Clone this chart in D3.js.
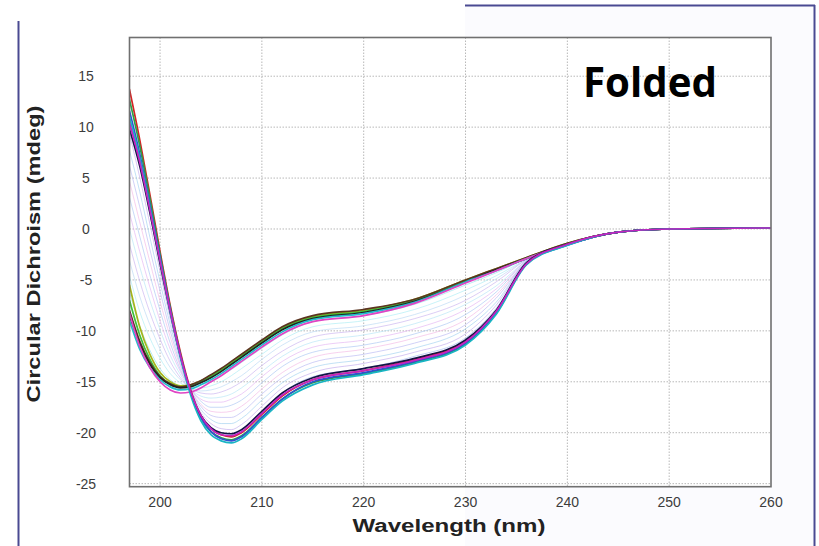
<!DOCTYPE html>
<html>
<head>
<meta charset="utf-8">
<script src="https://cdn.jsdelivr.net/npm/d3@7"></script>
<style>
  html, body { margin: 0; padding: 0; background: #ffffff; }
  svg { display: block; }
</style>
</head>
<body>
<svg id="chart" width="819" height="546"></svg>
<script>
// Wavelength grid (nm) shared by every spectrum
const wavelengths = [197,198,199,200,201,202,203,204,205,206,207,208,210,212,215,220,225,230,233,236,240,245,250,260];

const xTicks = [200, 210, 220, 230, 240, 250, 260];
const yTicks = [15, 10, 5, 0, -5, -10, -15, -20, -25];

// Spectra with the deep 207 nm minimum (CD, mdeg)
const helixSpectra = [
  [13.7,8.8,3.4,-2.2,-7.5,-12.1,-15.8,-18.3,-19.6,-20.2,-20.4,-20.0,-18.2,-16.4,-14.8,-13.9,-12.8,-11.0,-8.1,-3.4,-1.5,-0.3,0.0,0.1],
  [12.7,8.2,3.0,-2.5,-7.7,-12.3,-16.0,-18.5,-19.9,-20.5,-20.7,-20.3,-18.5,-16.7,-15.1,-14.2,-13.1,-11.3,-8.3,-3.4,-1.5,-0.3,0.0,0.1],
  [11.6,7.4,2.4,-2.8,-7.9,-12.4,-16.0,-18.5,-19.9,-20.6,-20.8,-20.4,-18.5,-16.7,-15.0,-14.1,-13.0,-11.2,-8.2,-3.4,-1.6,-0.3,0.0,0.1],
  [9.8,6.2,1.6,-3.4,-8.2,-12.5,-16.0,-18.3,-19.5,-20.0,-20.1,-19.7,-17.9,-16.1,-14.6,-13.7,-12.7,-10.9,-8.0,-3.3,-1.5,-0.3,0.0,0.1],
  [11.0,7.0,2.1,-3.0,-8.1,-12.6,-16.3,-18.8,-20.2,-20.8,-21.0,-20.6,-18.7,-16.9,-15.3,-14.3,-13.2,-11.4,-8.4,-3.5,-1.6,-0.3,0.0,0.1],
  [10.4,6.6,1.9,-3.1,-8.0,-12.4,-15.9,-18.3,-19.6,-20.2,-20.3,-19.9,-18.1,-16.3,-14.8,-13.9,-12.9,-11.1,-8.1,-3.4,-1.5,-0.3,0.0,0.1]
];
const helixColors = ["#d42424", "#2aa048", "#3050d0", "#141446", "#18b4c4", "#c424c0"];

// Spectra with the shallow 202 nm minimum (CD, mdeg)
const coilSpectra = [
  [-5.5,-9.6,-12.3,-14.1,-15.0,-15.4,-15.3,-14.9,-14.4,-13.8,-13.1,-12.4,-11.0,-9.7,-8.6,-8.0,-6.9,-5.0,-3.9,-2.8,-1.4,-0.3,0.0,0.1],
  [-7.0,-10.4,-12.8,-14.4,-15.2,-15.5,-15.4,-15.0,-14.5,-13.9,-13.2,-12.5,-11.1,-9.8,-8.7,-8.1,-7.0,-5.1,-4.0,-2.9,-1.5,-0.3,0.0,0.1],
  [-8.0,-11.0,-13.1,-14.5,-15.2,-15.5,-15.3,-14.9,-14.3,-13.7,-13.0,-12.3,-10.9,-9.6,-8.5,-7.9,-6.9,-5.0,-3.9,-2.8,-1.4,-0.3,0.0,0.1],
  [-8.5,-11.3,-13.3,-14.6,-15.3,-15.6,-15.5,-15.1,-14.6,-14.0,-13.3,-12.6,-11.2,-9.9,-8.8,-8.2,-7.1,-5.2,-4.0,-2.9,-1.5,-0.3,0.0,0.1],
  [-9.0,-11.8,-13.6,-14.8,-15.5,-15.8,-15.7,-15.3,-14.8,-14.2,-13.5,-12.8,-11.4,-10.1,-8.9,-8.3,-7.2,-5.2,-4.1,-2.9,-1.5,-0.3,0.0,0.1],
  [-8.3,-11.5,-13.6,-15.0,-15.8,-16.1,-16.0,-15.6,-15.0,-14.4,-13.7,-13.0,-11.6,-10.3,-9.1,-8.5,-7.3,-5.3,-4.1,-2.9,-1.5,-0.3,0.0,0.1]
];
const coilColors = ["#a4b41c", "#3cc03c", "#5a3420", "#222222", "#22bccc", "#e044c4"];

// Intermediate spectra recorded between the two end states
const transitionSpectra = [
  [-6.2,-9.5,-11.9,-13.7,-14.8,-15.4,-15.5,-15.3,-15.0,-14.4,-13.8,-13.1,-11.7,-10.4,-9.1,-8.5,-7.4,-5.5,-4.3,-2.9,-1.5,-0.3,0.0,0.1],
  [-4.6,-8.1,-10.7,-12.7,-14.2,-15.1,-15.6,-15.6,-15.4,-15.0,-14.4,-13.7,-12.3,-10.9,-9.6,-9.0,-7.9,-6.0,-4.6,-3.0,-1.5,-0.3,0.0,0.1],
  [-3.1,-6.6,-9.4,-11.8,-13.6,-14.8,-15.6,-15.9,-15.8,-15.5,-15.0,-14.4,-12.8,-11.4,-10.1,-9.5,-8.4,-6.5,-4.9,-3.0,-1.5,-0.3,0.0,0.1],
  [-1.5,-5.1,-8.2,-10.8,-13.0,-14.6,-15.6,-16.1,-16.2,-16.0,-15.6,-15.0,-13.4,-12.0,-10.6,-9.9,-8.8,-7.0,-5.2,-3.0,-1.5,-0.3,0.0,0.1],
  [0.0,-3.7,-7.0,-9.9,-12.4,-14.3,-15.7,-16.4,-16.6,-16.5,-16.2,-15.6,-14.0,-12.5,-11.1,-10.4,-9.3,-7.4,-5.6,-3.1,-1.5,-0.3,0.0,0.1],
  [1.6,-2.2,-5.7,-9.0,-11.8,-14.0,-15.7,-16.7,-17.0,-17.0,-16.7,-16.2,-14.5,-13.0,-11.6,-10.9,-9.8,-7.9,-5.9,-3.1,-1.5,-0.3,0.0,0.1],
  [3.1,-0.7,-4.5,-8.0,-11.2,-13.8,-15.7,-16.9,-17.5,-17.5,-17.3,-16.8,-15.1,-13.5,-12.1,-11.4,-10.3,-8.4,-6.2,-3.1,-1.5,-0.3,0.0,0.1],
  [4.7,0.7,-3.2,-7.1,-10.6,-13.5,-15.8,-17.2,-17.9,-18.0,-17.9,-17.4,-15.7,-14.1,-12.6,-11.8,-10.7,-8.9,-6.5,-3.2,-1.5,-0.3,0.0,0.1],
  [6.2,2.2,-2.0,-6.1,-10.0,-13.3,-15.8,-17.4,-18.3,-18.5,-18.5,-18.0,-16.2,-14.6,-13.1,-12.3,-11.2,-9.4,-6.8,-3.2,-1.5,-0.3,0.0,0.1],
  [7.7,3.7,-0.8,-5.2,-9.4,-13.0,-15.8,-17.7,-18.7,-19.1,-19.1,-18.6,-16.8,-15.1,-13.6,-12.8,-11.7,-9.8,-7.2,-3.2,-1.5,-0.3,0.0,0.1],
  [9.3,5.1,0.5,-4.2,-8.8,-12.7,-15.8,-18.0,-19.1,-19.6,-19.7,-19.2,-17.4,-15.6,-14.1,-13.2,-12.1,-10.3,-7.5,-3.2,-1.5,-0.3,0.0,0.1],
  [10.6,6.4,1.6,-3.4,-8.3,-12.5,-15.9,-18.2,-19.5,-20.0,-20.2,-19.7,-17.9,-16.1,-14.5,-13.7,-12.5,-10.7,-7.8,-3.3,-1.5,-0.3,0.0,0.1]
];
const transitionColors = ["#8fe3ee", "#a8ecf4", "#b8d8f4", "#c8b0f0", "#b4e4f6", "#e2b2f2",
                          "#a8c4f2", "#f2b6e4", "#b6b6f2", "#9fd0f0", "#c0a8ec", "#a0b6f0"];

const svg = d3.select("#chart");
const W = 819, H = 546;
const plot = { left: 129.5, right: 771, top: 37.5, bottom: 486.7 };

// light backdrop and slide border lines
svg.append("rect").attr("x", 0).attr("y", 0).attr("width", W).attr("height", H).attr("fill", "#ffffff");
svg.append("rect").attr("x", 465).attr("y", 6.5).attr("width", 348).attr("height", H - 6.5).attr("fill", "#fbfbfe");
svg.append("rect").attr("x", plot.left).attr("y", plot.top)
  .attr("width", plot.right - plot.left).attr("height", plot.bottom - plot.top).attr("fill", "#ffffff");

const border = "#4a4a92";
svg.append("line").attr("x1", 18.5).attr("x2", 18.5).attr("y1", 21).attr("y2", H)
  .attr("stroke", border).attr("stroke-width", 2);
svg.append("line").attr("x1", 465).attr("x2", 815).attr("y1", 5.5).attr("y2", 5.5)
  .attr("stroke", border).attr("stroke-width", 2);
svg.append("line").attr("x1", 814.5).attr("x2", 814.5).attr("y1", 5).attr("y2", H)
  .attr("stroke", border).attr("stroke-width", 2);

const x = d3.scaleLinear().domain([197, 260]).range([plot.left, plot.right]);
const y = d3.scaleLinear().domain([-25.3, 18.8]).range([plot.bottom, plot.top]);

// dotted grid
const grid = svg.append("g").attr("stroke", "#b8b8b8").attr("stroke-width", 1)
  .attr("stroke-dasharray", "1.5,1.5");
grid.selectAll(".vg").data(xTicks.filter(t => t < 260)).join("line")
  .attr("x1", d => x(d)).attr("x2", d => x(d)).attr("y1", plot.top).attr("y2", plot.bottom);
grid.selectAll(".hg").data(yTicks).join("line")
  .attr("x1", plot.left).attr("x2", plot.right).attr("y1", d => y(d)).attr("y2", d => y(d));

// spectra
svg.append("clipPath").attr("id", "plotClip").append("rect")
  .attr("x", plot.left).attr("y", plot.top)
  .attr("width", plot.right - plot.left).attr("height", plot.bottom - plot.top);

const line = d3.line()
  .x((d, i) => x(wavelengths[i]))
  .y(d => y(d))
  .curve(d3.curveMonotoneX);

const curves = svg.append("g").attr("clip-path", "url(#plotClip)").attr("fill", "none")
  .attr("stroke-linejoin", "round").attr("stroke-linecap", "round");

curves.append("g").selectAll("path").data(transitionSpectra).join("path")
  .attr("d", line)
  .attr("stroke", (d, i) => transitionColors[i])
  .attr("stroke-width", 0.8)
  .attr("opacity", 0.8);

curves.append("g").selectAll("path").data(coilSpectra).join("path")
  .attr("d", line)
  .attr("stroke", (d, i) => coilColors[i])
  .attr("stroke-width", 1.7);

curves.append("g").selectAll("path").data(helixSpectra).join("path")
  .attr("d", line)
  .attr("stroke", (d, i) => helixColors[i])
  .attr("stroke-width", 1.7);

// plot frame
svg.append("rect").attr("x", plot.left).attr("y", plot.top)
  .attr("width", plot.right - plot.left).attr("height", plot.bottom - plot.top)
  .attr("fill", "none").attr("stroke", "#707070").attr("stroke-width", 1.6);

// tick labels
const tickFont = "'Liberation Sans', Arial, sans-serif";
svg.append("g").selectAll("text").data(xTicks).join("text")
  .attr("x", d => x(d)).attr("y", 506.5)
  .attr("text-anchor", "middle")
  .attr("font-family", tickFont).attr("font-size", 14).attr("fill", "#3c3c3c")
  .text(d => d);

svg.append("g").selectAll("text").data(yTicks).join("text")
  .attr("x", 86).attr("y", d => y(d) + 5)
  .attr("text-anchor", "middle")
  .attr("font-family", tickFont).attr("font-size", 14).attr("fill", "#3c3c3c")
  .text(d => d);

// axis titles
svg.append("text")
  .attr("x", 449).attr("y", 532)
  .attr("text-anchor", "middle")
  .attr("font-family", tickFont).attr("font-weight", "bold").attr("font-size", 18)
  .attr("fill", "#222222")
  .attr("textLength", 193).attr("lengthAdjust", "spacingAndGlyphs")
  .text("Wavelength (nm)");

svg.append("text")
  .attr("transform", "translate(40,254) rotate(-90)")
  .attr("text-anchor", "middle")
  .attr("font-family", tickFont).attr("font-weight", "bold").attr("font-size", 18)
  .attr("fill", "#222222")
  .attr("textLength", 297).attr("lengthAdjust", "spacingAndGlyphs")
  .text("Circular Dichroism (mdeg)");

// state annotation
svg.append("text")
  .attr("x", 583).attr("y", 97)
  .attr("font-family", "'Open Sans', 'Noto Sans', sans-serif").attr("font-weight", "bold")
  .attr("font-size", 42).attr("fill", "#000000")
  .attr("textLength", 134).attr("lengthAdjust", "spacingAndGlyphs")
  .text("Folded");
</script>
</body>
</html>
